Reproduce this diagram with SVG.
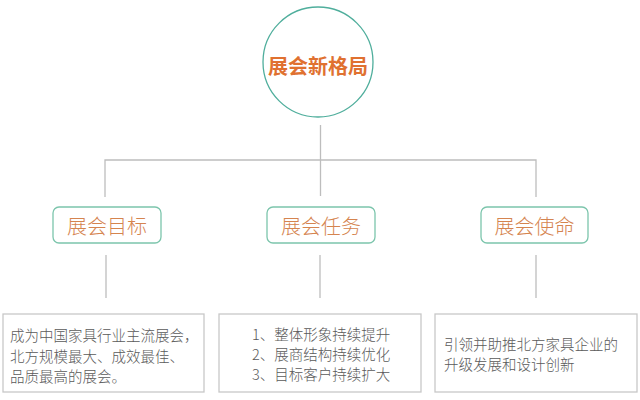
<svg xmlns="http://www.w3.org/2000/svg" width="640" height="400" viewBox="0 0 640 400">
<style>
.bg{fill:#ffffff}
.conn{stroke:#bdbdbd;stroke-width:1.3;fill:none}
.circ{fill:#ffffff;stroke:#4fae9c;stroke-width:1.3}
.mid{fill:#ffffff;stroke:#7cc5ac;stroke-width:1.3}
.low{fill:#ffffff;stroke:#c8c8c8;stroke-width:1.3}
.title{font-family:"Noto Sans CJK SC","Noto Sans",sans-serif;font-size:20px;font-weight:bold;fill:#e07130}
.lbl{font-family:"Noto Sans CJK SC","Noto Sans",sans-serif;font-size:20px;font-weight:300;fill:#d5844f}
.txt{font-family:"Noto Sans CJK SC","Noto Sans",sans-serif;font-size:14.5px;font-weight:300;fill:#5a5a5a}
</style>
<rect class="bg" x="0" y="0" width="640" height="400"/>
<g id="connectors">
<path class="conn" d="M320.5 125 V196"/>
<path class="conn" d="M105 197 V160 H536 V197"/>
<path class="conn" d="M106 255 V298"/>
<path class="conn" d="M320 255 V298"/>
<path class="conn" d="M536 255 V298"/>
</g>
<g id="root">
<circle class="circ" cx="318" cy="62" r="55"/>
<text class="title" x="318" y="65" text-anchor="middle" dominant-baseline="central">展会新格局</text>
</g>
<g id="goal">
<rect class="mid" x="53" y="207" width="108" height="36" rx="6"/>
<text class="lbl" x="107" y="225" text-anchor="middle" dominant-baseline="central">展会目标</text>
</g>
<g id="task">
<rect class="mid" x="267" y="207" width="108" height="36" rx="6"/>
<text class="lbl" x="321" y="225" text-anchor="middle" dominant-baseline="central">展会任务</text>
</g>
<g id="mission">
<rect class="mid" x="481" y="207" width="107" height="36" rx="6"/>
<text class="lbl" x="534.5" y="225" text-anchor="middle" dominant-baseline="central">展会使命</text>
</g>
<g id="goal-detail">
<rect class="low" x="3" y="314" width="201" height="78"/>
<text class="txt" x="10" y="334" dominant-baseline="central">成为中国家具行业主流展会，</text>
<text class="txt" x="10" y="355" dominant-baseline="central">北方规模最大、成效最佳、</text>
<text class="txt" x="10" y="375" dominant-baseline="central">品质最高的展会。</text>
</g>
<g id="task-detail">
<rect class="low" x="219" y="314" width="202" height="78"/>
<text class="txt" x="252" y="333" dominant-baseline="central">1、整体形象持续提升</text>
<text class="txt" x="252" y="353" dominant-baseline="central">2、展商结构持续优化</text>
<text class="txt" x="252" y="373" dominant-baseline="central">3、目标客户持续扩大</text>
</g>
<g id="mission-detail">
<rect class="low" x="435" y="314" width="202" height="78"/>
<text class="txt" x="444" y="343" dominant-baseline="central" font-size="15">引领并助推北方家具企业的</text>
<text class="txt" x="444" y="363" dominant-baseline="central" font-size="15">升级发展和设计创新</text>
</g>
</svg>
